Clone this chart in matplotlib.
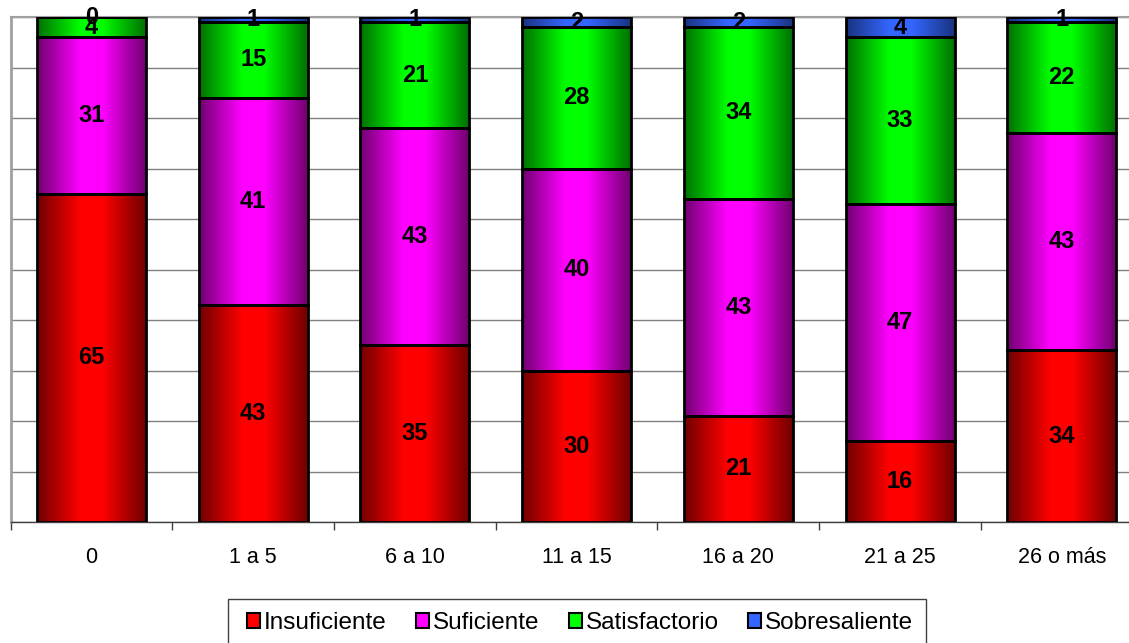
import numpy as np
import matplotlib
matplotlib.use("Agg")
import matplotlib.pyplot as plt
from matplotlib.colors import to_rgb
from matplotlib.patches import Patch, Rectangle

plt.rcParams['font.family'] = ['Liberation Sans', 'DejaVu Sans']

categorias = ["0", "1 a 5", "6 a 10", "11 a 15", "16 a 20", "21 a 25", "26 o más"]
series = ["Insuficiente", "Suficiente", "Satisfactorio", "Sobresaliente"]
insuficiente = [65, 43, 35, 30, 21, 16, 34]
suficiente = [31, 41, 43, 40, 43, 47, 43]
satisfactorio = [4, 15, 21, 28, 34, 33, 22]
sobresaliente = [0, 1, 1, 2, 2, 4, 1]

valores = [insuficiente, suficiente, satisfactorio, sobresaliente]
claros = ["#FF0000", "#FF00FF", "#00FF00", "#3366FF"]
oscuros = ["#700000", "#700070", "#007000", "#1A3380"]


def gradiente(c1, c2, n=200):
    u = np.linspace(0, 1, n)
    t = 1 - np.abs(2 * u - 1)
    t = np.clip(t * 1.25, 0, 1)
    a = np.array(to_rgb(c2))
    b = np.array(to_rgb(c1))
    img = a[None, :] + (b - a)[None, :] * t[:, None]
    return img[None, :, :]


W, H = 1129, 643
fig = plt.figure(figsize=(W / 100, H / 100), dpi=100)
# el area del grafico sigue un poco mas alla del borde derecho
ax = fig.add_axes([10.7 / W, 1 - 522 / H, 7 * 161.7 / W, (522 - 17) / H])

x = np.arange(len(categorias))
ancho = 0.674
base = np.zeros(len(categorias))
for i, vals in enumerate(valores):
    vals = np.array(vals, dtype=float)
    ax.bar(x, vals, ancho, bottom=base, color=claros[i], edgecolor='none', zorder=2)
    img = gradiente(claros[i], oscuros[i])
    for j in range(len(categorias)):
        if vals[j] > 0:
            ax.imshow(img, extent=[x[j] - ancho / 2, x[j] + ancho / 2, base[j], base[j] + vals[j]],
                      aspect='auto', zorder=3, interpolation='bilinear')
    ax.bar(x, vals, ancho, bottom=base, fill=False, edgecolor='black', linewidth=2, zorder=4)
    for j in range(len(categorias)):
        ax.text(x[j], base[j] + vals[j] / 2, str(int(vals[j])), ha='center', va='center',
                fontsize=17, fontweight='bold', color='black', zorder=5)
    base = base + vals

ax.set_xlim(-0.5, len(categorias) - 0.5)
ax.set_ylim(0, 100)
ax.set_yticks(np.arange(0, 101, 10))
ax.set_yticklabels([])
ax.tick_params(axis='y', length=0)
ax.yaxis.grid(True, color='#808080', linewidth=1, zorder=0)
ax.set_axisbelow(True)

ax.set_xticks(x)
ax.set_xticklabels(categorias, fontsize=15.5)
ax.tick_params(axis='x', which='major', length=0, pad=18)
ax.set_xticks(np.arange(-0.5, len(categorias), 1), minor=True)
ax.tick_params(axis='x', which='minor', length=6, width=1, color='#404040')

ax.spines['left'].set_color('#A0A0A0')
ax.spines['left'].set_linewidth(2)
ax.spines['top'].set_color('#A0A0A0')
ax.spines['top'].set_linewidth(1.5)
ax.spines['right'].set_visible(False)
ax.spines['bottom'].set_color('#404040')
ax.spines['bottom'].set_linewidth(1)

# leyenda sin marco propio, el marco se dibuja aparte
handles = [Patch(facecolor=claros[i], edgecolor='black', linewidth=1.5) for i in range(4)]
leg = fig.legend(handles, series, loc='center', bbox_to_anchor=(580 / W, 1 - 623 / H),
                 ncol=4, fontsize=17.5, frameon=False, handlelength=0.55,
                 handleheight=0.55, handletextpad=0.15, columnspacing=1.2, borderpad=0)
marco = Rectangle((228 / W, 0 - 0.01), (926 - 228) / W, (H - 599) / H + 0.01,
                  transform=fig.transFigure, fill=False, edgecolor='#404040', linewidth=1)
fig.patches.append(marco)

fig.savefig('out.png', dpi=100)
